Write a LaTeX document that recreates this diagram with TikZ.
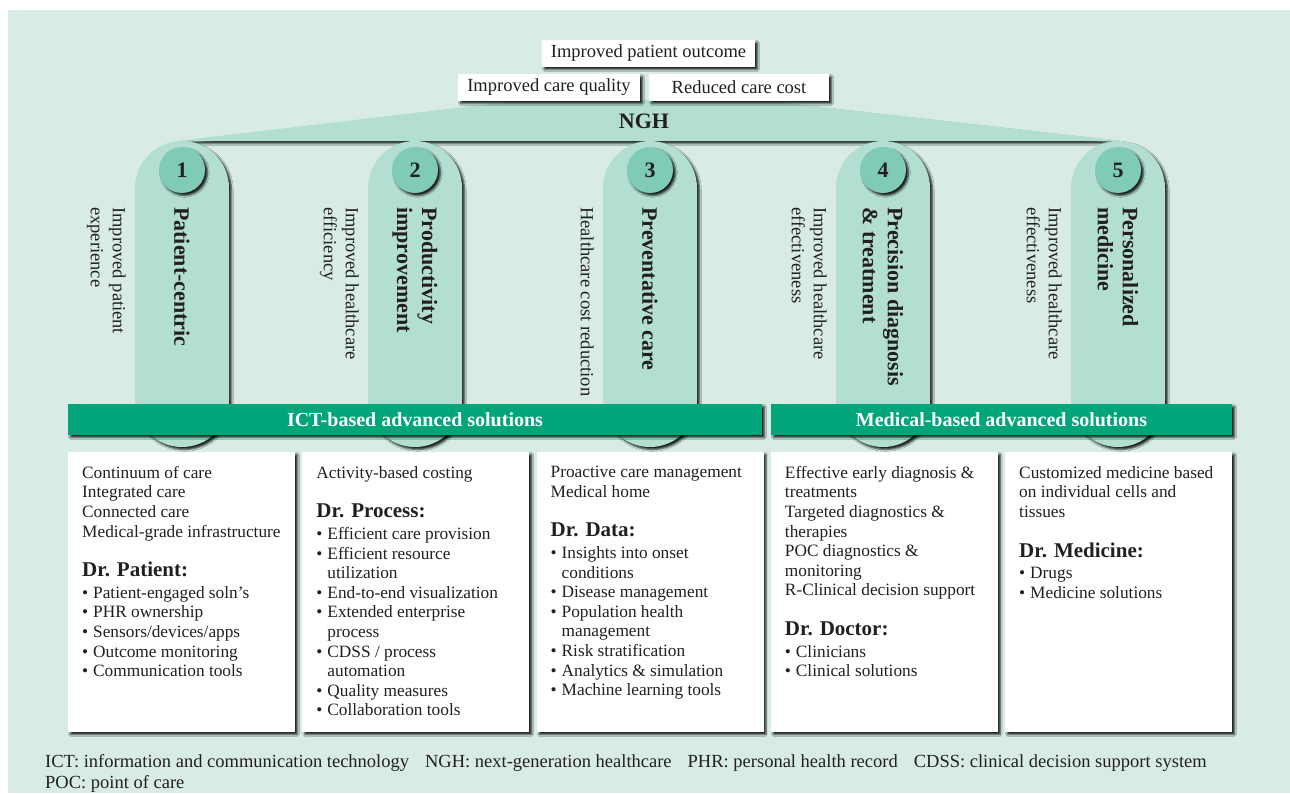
\documentclass[tikz,border=0pt]{standalone}
\usepackage{fontspec}
\setmainfont{Liberation Serif}
\usetikzlibrary{shadows.blur}
\definecolor{mintbg}{RGB}{216,236,229}
\definecolor{pillgreen}{RGB}{179,222,210}
\definecolor{discgreen}{RGB}{128,203,181}
\definecolor{bargreen}{RGB}{0,166,122}
\definecolor{ink}{RGB}{35,31,32}
\newcommand\bul{\makebox[11pt][l]{\textbullet}}
\newcommand\ind{\hspace*{11pt}}
\newcommand\drhd[1]{{\fontsize{21}{24}\selectfont\bfseries #1}}
\tikzset{
  shadowed/.style={blur shadow={shadow xshift=2.5pt,shadow yshift=-2.5pt,shadow blur radius=1.8pt,shadow opacity=85}},
  topbox/.style={fill=white,shadowed,inner sep=0pt,minimum height=27pt,font=\fontsize{18.5}{22}\selectfont},
  numdisc/.style={circle,fill=discgreen,shadowed,minimum size=46pt,inner sep=0pt,font=\fontsize{22}{26}\selectfont\bfseries},
  pilltext/.style={rotate=-90,anchor=west,align=left,inner sep=0pt,font=\fontsize{22}{25}\selectfont\bfseries},
  sidetext/.style={rotate=-90,anchor=north west,align=left,inner sep=0pt,font=\fontsize{18.5}{22}\selectfont},
  solnbar/.style={fill=bargreen,shadowed,text=white,minimum height=31pt,inner sep=0pt,font=\fontsize{20}{24}\selectfont\bfseries},
  card/.style={fill=white,shadowed},
  cardtext/.style={anchor=north west,align=left,inner sep=0pt,font=\fontsize{17.3}{19.6}\selectfont}
}
\begin{document}
\begin{tikzpicture}[x=1pt,y=-1pt,text=ink]
\useasboundingbox (0,0) rectangle (1290,793);
\fill[white] (0,0) rectangle (1290,793);
\fill[mintbg] (8,10) rectangle (1290,793);
\fill[pillgreen,shadowed] (524,100) -- (760,100) -- (1123,141) -- (177,141) -- cycle;
\node[font=\fontsize{22}{26}\selectfont\bfseries] (ngh) at (644,121) {NGH};
\node[topbox,minimum width=213pt] (outcome) at (648.5,53.5) {Improved patient outcome};
\node[topbox,minimum width=182pt] (quality) at (549,87.5) {Improved care quality};
\node[topbox,minimum width=180pt] (cost) at (739,87.5) {Reduced care cost};
\foreach \cx/\n/\lab/\side in {182/1/{Patient-centric}/{Improved patient\\experience},
  415/2/{Productivity\\improvement}/{Improved healthcare\\efficiency},
  650/3/{Preventative care}/{Healthcare cost reduction},
  883/4/{Precision diagnosis\\\& treatment}/{Improved healthcare\\effectiveness},
  1118/5/{Personalized\\medicine}/{Improved healthcare\\effectiveness}}{
  \fill[pillgreen,shadowed,rounded corners=47pt] (\cx-47,141) rectangle (\cx+47,447);
  \node[numdisc] (n\n) at (\cx,170) {\n};
  \node[pilltext] (p\n) at (\cx,207) {\lab};
  \node[sidetext] (s\n) at (\cx-56,207) {\side};
}
\node[solnbar,minimum width=694pt] (ict) at (415,419.5) {ICT-based advanced solutions};
\node[solnbar,minimum width=461pt] (med) at (1001.5,419.5) {Medical-based advanced solutions};
\foreach \bx in {68,302.25,536.5,770.75,1005} \path[card] (\bx,452) rectangle +(227,280);
\node[cardtext] (c1) at (82,466) {Continuum of care\\Integrated care\\Connected care\\Medical-grade infrastructure\\[20pt]
  \drhd{Dr. Patient:}\\[2pt]\bul Patient-engaged soln's\\\bul PHR ownership\\\bul Sensors/devices/apps\\\bul Outcome monitoring\\\bul Communication tools};
\node[cardtext] (c2) at (316.25,466) {Activity-based costing\\[20pt]
  \drhd{Dr. Process:}\\[2pt]\bul Efficient care provision\\\bul Efficient resource\\\ind utilization\\\bul End-to-end visualization\\\bul Extended enterprise\\\ind process\\\bul CDSS / process\\\ind automation\\\bul Quality measures\\\bul Collaboration tools};
\node[cardtext] (c3) at (550.5,466) {Proactive care management\\Medical home\\[20pt]
  \drhd{Dr. Data:}\\[2pt]\bul Insights into onset\\\ind conditions\\\bul Disease management\\\bul Population health\\\ind management\\\bul Risk stratification\\\bul Analytics \& simulation\\\bul Machine learning tools};
\node[cardtext] (c4) at (784.75,466) {Effective early diagnosis \&\\treatments\\Targeted diagnostics \&\\therapies\\POC diagnostics \&\\monitoring\\R-Clinical decision support\\[20pt]
  \drhd{Dr. Doctor:}\\[2pt]\bul Clinicians\\\bul Clinical solutions};
\node[cardtext] (c5) at (1019,466) {Customized medicine based\\on individual cells and\\tissues\\[20pt]
  \drhd{Dr. Medicine:}\\[2pt]\bul Drugs\\\bul Medicine solutions};
\node[anchor=north west,align=left,inner sep=0pt,font=\fontsize{18.5}{21}\selectfont] (notes) at (45,754.5) {ICT: information and communication technology\hspace{16pt}NGH: next-generation healthcare\hspace{16pt}PHR: personal health record\hspace{16pt}CDSS: clinical decision support system\\POC: point of care};
\end{tikzpicture}
\end{document}
